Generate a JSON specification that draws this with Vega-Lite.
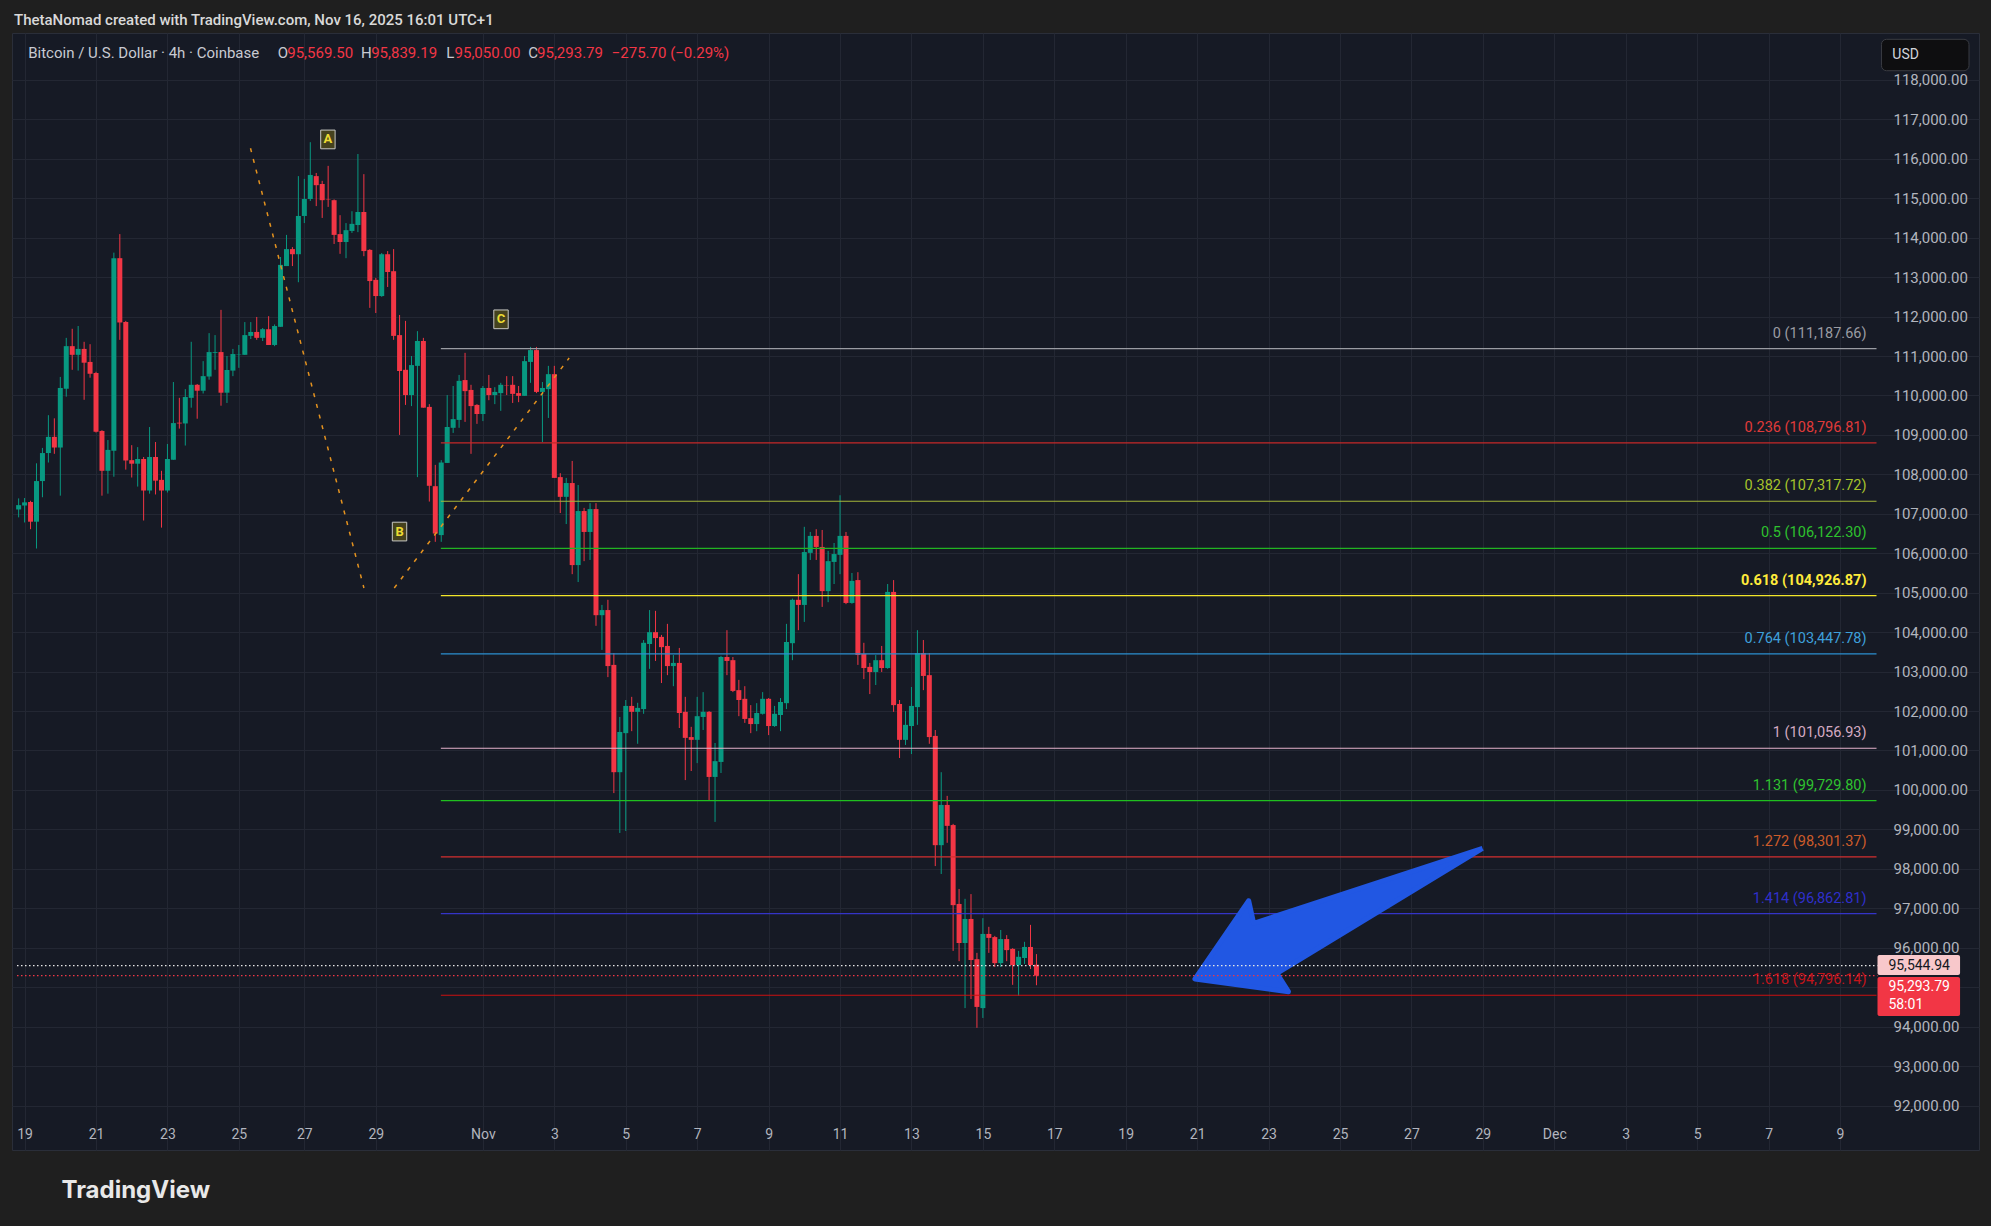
{
"$schema": "https://vega.github.io/schema/vega-lite/v6.json",
"width": 1967, "height": 1117,
"autosize": {"type": "none"},
"padding": {"left": 12, "top": 33, "right": 12, "bottom": 76},
"background": "#1f1f1f",
"config": {"view": {"fill": "#161a25", "stroke": "#2a2e39"}, "font": "Roboto"},
"title": {"text": "ThetaNomad created with TradingView.com, Nov 16, 2025 16:01 UTC+1", "anchor": "start", "frame": "group", "offset": 8, "baseline": "alphabetic", "dx": 2, "dy": 15, "fontSize": 15, "fontWeight": 500, "color": "#d9d9d9", "font": "Roboto"},
"datasets": {
"candles": [
{"t":"2025-10-19T00:00","o":107110,"h":107390,"l":106910,"c":107220},
{"t":"2025-10-19T04:00","o":107210,"h":107400,"l":106780,"c":107290},
{"t":"2025-10-19T08:00","o":107300,"h":107330,"l":106610,"c":106800},
{"t":"2025-10-19T12:00","o":106800,"h":108280,"l":106120,"c":107830},
{"t":"2025-10-19T16:00","o":107830,"h":108670,"l":107420,"c":108540},
{"t":"2025-10-19T20:00","o":108540,"h":109500,"l":108300,"c":108950},
{"t":"2025-10-20T00:00","o":108950,"h":109420,"l":108520,"c":108680},
{"t":"2025-10-20T04:00","o":108680,"h":110470,"l":107460,"c":110190},
{"t":"2025-10-20T08:00","o":110170,"h":111460,"l":109970,"c":111250},
{"t":"2025-10-20T12:00","o":111250,"h":111690,"l":110650,"c":111030},
{"t":"2025-10-20T16:00","o":111030,"h":111760,"l":110630,"c":111180},
{"t":"2025-10-20T20:00","o":111180,"h":111360,"l":109890,"c":110830},
{"t":"2025-10-21T00:00","o":110850,"h":111300,"l":110450,"c":110550},
{"t":"2025-10-21T04:00","o":110570,"h":110600,"l":109060,"c":109080},
{"t":"2025-10-21T08:00","o":109100,"h":109120,"l":107460,"c":108090},
{"t":"2025-10-21T12:00","o":108090,"h":108870,"l":107510,"c":108620},
{"t":"2025-10-21T16:00","o":108600,"h":113620,"l":107940,"c":113480},
{"t":"2025-10-21T20:00","o":113480,"h":114090,"l":111410,"c":111850},
{"t":"2025-10-22T00:00","o":111860,"h":111890,"l":108120,"c":108350},
{"t":"2025-10-22T04:00","o":108360,"h":108740,"l":107920,"c":108270},
{"t":"2025-10-22T08:00","o":108270,"h":108690,"l":107690,"c":108390},
{"t":"2025-10-22T12:00","o":108390,"h":108440,"l":106830,"c":107590},
{"t":"2025-10-22T16:00","o":107590,"h":109200,"l":107510,"c":108440},
{"t":"2025-10-22T20:00","o":108440,"h":108820,"l":107490,"c":107840},
{"t":"2025-10-23T00:00","o":107860,"h":108090,"l":106650,"c":107590},
{"t":"2025-10-23T04:00","o":107590,"h":108770,"l":107540,"c":108390},
{"t":"2025-10-23T08:00","o":108370,"h":110340,"l":108370,"c":109300},
{"t":"2025-10-23T12:00","o":109310,"h":109940,"l":109160,"c":109290},
{"t":"2025-10-23T16:00","o":109290,"h":110160,"l":108730,"c":109960},
{"t":"2025-10-23T20:00","o":109940,"h":111360,"l":109690,"c":110270},
{"t":"2025-10-24T00:00","o":110270,"h":110290,"l":109410,"c":110120},
{"t":"2025-10-24T04:00","o":110120,"h":110870,"l":110050,"c":110490},
{"t":"2025-10-24T08:00","o":110480,"h":111580,"l":110400,"c":111100},
{"t":"2025-10-24T12:00","o":111080,"h":111530,"l":110650,"c":111100},
{"t":"2025-10-24T16:00","o":111100,"h":112170,"l":109740,"c":110070},
{"t":"2025-10-24T20:00","o":110070,"h":111000,"l":109810,"c":110645},
{"t":"2025-10-25T00:00","o":110630,"h":111180,"l":110490,"c":111050},
{"t":"2025-10-25T04:00","o":111040,"h":111280,"l":110700,"c":111050},
{"t":"2025-10-25T08:00","o":111030,"h":111860,"l":111030,"c":111530},
{"t":"2025-10-25T12:00","o":111510,"h":111860,"l":111430,"c":111610},
{"t":"2025-10-25T16:00","o":111610,"h":111990,"l":111410,"c":111460},
{"t":"2025-10-25T20:00","o":111460,"h":111710,"l":111380,"c":111680},
{"t":"2025-10-26T00:00","o":111680,"h":112010,"l":111280,"c":111280},
{"t":"2025-10-26T04:00","o":111280,"h":111800,"l":111250,"c":111760},
{"t":"2025-10-26T08:00","o":111740,"h":113510,"l":111740,"c":113310},
{"t":"2025-10-26T12:00","o":113280,"h":114070,"l":113280,"c":113710},
{"t":"2025-10-26T16:00","o":113710,"h":113760,"l":113280,"c":113580},
{"t":"2025-10-26T20:00","o":113580,"h":115560,"l":112870,"c":114550},
{"t":"2025-10-27T00:00","o":114550,"h":115490,"l":114370,"c":114980},
{"t":"2025-10-27T04:00","o":114980,"h":116420,"l":114930,"c":115590},
{"t":"2025-10-27T08:00","o":115560,"h":115640,"l":114800,"c":115330},
{"t":"2025-10-27T12:00","o":115360,"h":115440,"l":114500,"c":114950},
{"t":"2025-10-27T16:00","o":114970,"h":115820,"l":114780,"c":114960},
{"t":"2025-10-27T20:00","o":114950,"h":114970,"l":113840,"c":114070},
{"t":"2025-10-28T00:00","o":114090,"h":114570,"l":113590,"c":113890},
{"t":"2025-10-28T04:00","o":113890,"h":114370,"l":113480,"c":114190},
{"t":"2025-10-28T08:00","o":114170,"h":114670,"l":114120,"c":114350},
{"t":"2025-10-28T12:00","o":114320,"h":116120,"l":114140,"c":114650},
{"t":"2025-10-28T16:00","o":114650,"h":115610,"l":113530,"c":113660},
{"t":"2025-10-28T20:00","o":113690,"h":113710,"l":112220,"c":112900},
{"t":"2025-10-29T00:00","o":112930,"h":112980,"l":112090,"c":112520},
{"t":"2025-10-29T04:00","o":112520,"h":113610,"l":112500,"c":113580},
{"t":"2025-10-29T08:00","o":113580,"h":113660,"l":112750,"c":113130},
{"t":"2025-10-29T12:00","o":113150,"h":113710,"l":111410,"c":111510},
{"t":"2025-10-29T16:00","o":111530,"h":112040,"l":109000,"c":110620},
{"t":"2025-10-29T20:00","o":110650,"h":111890,"l":109760,"c":110010},
{"t":"2025-10-30T00:00","o":110010,"h":111000,"l":109730,"c":110770},
{"t":"2025-10-30T04:00","o":110750,"h":111630,"l":107930,"c":111380},
{"t":"2025-10-30T08:00","o":111380,"h":111460,"l":109690,"c":109690},
{"t":"2025-10-30T12:00","o":109710,"h":109780,"l":107310,"c":107710},
{"t":"2025-10-30T16:00","o":107700,"h":108240,"l":106290,"c":106500},
{"t":"2025-10-30T20:00","o":106460,"h":108360,"l":106290,"c":108300},
{"t":"2025-10-31T00:00","o":108290,"h":110010,"l":108290,"c":109200},
{"t":"2025-10-31T04:00","o":109180,"h":110240,"l":109050,"c":109400},
{"t":"2025-10-31T08:00","o":109380,"h":110520,"l":109180,"c":110370},
{"t":"2025-10-31T12:00","o":110390,"h":111080,"l":109330,"c":110110},
{"t":"2025-10-31T16:00","o":110140,"h":110270,"l":108520,"c":109730},
{"t":"2025-10-31T20:00","o":109760,"h":109780,"l":109280,"c":109530},
{"t":"2025-11-01T00:00","o":109530,"h":110240,"l":109350,"c":110190},
{"t":"2025-11-01T04:00","o":110190,"h":110520,"l":109880,"c":110010},
{"t":"2025-11-01T08:00","o":110010,"h":110210,"l":109780,"c":110090},
{"t":"2025-11-01T12:00","o":110060,"h":110320,"l":109610,"c":110270},
{"t":"2025-11-01T16:00","o":110260,"h":110490,"l":110010,"c":110250},
{"t":"2025-11-01T20:00","o":110270,"h":110490,"l":109810,"c":110040},
{"t":"2025-11-02T00:00","o":110060,"h":110240,"l":109830,"c":109990},
{"t":"2025-11-02T04:00","o":109990,"h":111000,"l":109990,"c":110870},
{"t":"2025-11-02T08:00","o":110850,"h":111230,"l":110320,"c":111150},
{"t":"2025-11-02T12:00","o":111150,"h":111230,"l":110060,"c":110090},
{"t":"2025-11-02T16:00","o":110090,"h":110340,"l":108820,"c":110190},
{"t":"2025-11-02T20:00","o":110160,"h":110750,"l":109430,"c":110540},
{"t":"2025-11-03T00:00","o":110540,"h":110750,"l":107910,"c":107910},
{"t":"2025-11-03T04:00","o":107930,"h":108030,"l":107020,"c":107430},
{"t":"2025-11-03T08:00","o":107430,"h":107910,"l":106740,"c":107780},
{"t":"2025-11-03T12:00","o":107780,"h":108340,"l":105470,"c":105700},
{"t":"2025-11-03T16:00","o":105700,"h":107730,"l":105270,"c":107070},
{"t":"2025-11-03T20:00","o":107070,"h":107150,"l":105800,"c":106540},
{"t":"2025-11-04T00:00","o":106540,"h":107270,"l":105830,"c":107120},
{"t":"2025-11-04T04:00","o":107120,"h":107270,"l":104160,"c":104430},
{"t":"2025-11-04T08:00","o":104430,"h":104690,"l":103550,"c":104560},
{"t":"2025-11-04T12:00","o":104560,"h":104820,"l":102860,"c":103140},
{"t":"2025-11-04T16:00","o":103170,"h":103470,"l":99920,"c":100450},
{"t":"2025-11-04T20:00","o":100450,"h":101850,"l":98910,"c":101470},
{"t":"2025-11-05T00:00","o":101440,"h":102280,"l":98960,"c":102130},
{"t":"2025-11-05T04:00","o":102130,"h":102360,"l":101490,"c":101980},
{"t":"2025-11-05T08:00","o":101980,"h":102210,"l":101170,"c":102080},
{"t":"2025-11-05T12:00","o":102050,"h":103800,"l":101930,"c":103730},
{"t":"2025-11-05T16:00","o":103700,"h":104560,"l":103070,"c":104000},
{"t":"2025-11-05T20:00","o":104000,"h":104540,"l":103270,"c":103850},
{"t":"2025-11-06T00:00","o":103880,"h":103930,"l":102710,"c":103620},
{"t":"2025-11-06T04:00","o":103650,"h":104210,"l":102910,"c":103140},
{"t":"2025-11-06T08:00","o":103140,"h":103420,"l":102630,"c":103220},
{"t":"2025-11-06T12:00","o":103220,"h":103600,"l":101570,"c":101950},
{"t":"2025-11-06T16:00","o":101980,"h":102360,"l":100250,"c":101320},
{"t":"2025-11-06T20:00","o":101340,"h":101600,"l":100480,"c":101270},
{"t":"2025-11-07T00:00","o":101270,"h":102360,"l":100680,"c":101870},
{"t":"2025-11-07T04:00","o":101850,"h":102480,"l":101520,"c":101980},
{"t":"2025-11-07T08:00","o":101980,"h":102000,"l":99740,"c":100330},
{"t":"2025-11-07T12:00","o":100330,"h":101190,"l":99190,"c":100730},
{"t":"2025-11-07T16:00","o":100710,"h":103400,"l":100430,"c":103370},
{"t":"2025-11-07T20:00","o":103370,"h":104050,"l":102910,"c":103270},
{"t":"2025-11-08T00:00","o":103290,"h":103370,"l":102480,"c":102510},
{"t":"2025-11-08T04:00","o":102530,"h":102790,"l":101870,"c":102280},
{"t":"2025-11-08T08:00","o":102310,"h":102630,"l":101700,"c":101800},
{"t":"2025-11-08T12:00","o":101820,"h":102150,"l":101440,"c":101670},
{"t":"2025-11-08T16:00","o":101670,"h":102200,"l":101490,"c":101950},
{"t":"2025-11-08T20:00","o":101930,"h":102480,"l":101910,"c":102310},
{"t":"2025-11-09T00:00","o":102310,"h":102330,"l":101390,"c":101620},
{"t":"2025-11-09T04:00","o":101620,"h":102130,"l":101600,"c":101930},
{"t":"2025-11-09T08:00","o":101900,"h":102330,"l":101490,"c":102230},
{"t":"2025-11-09T12:00","o":102200,"h":104210,"l":102050,"c":103750},
{"t":"2025-11-09T16:00","o":103720,"h":104850,"l":103290,"c":104820},
{"t":"2025-11-09T20:00","o":104820,"h":105470,"l":104050,"c":104690},
{"t":"2025-11-10T00:00","o":104690,"h":106670,"l":104260,"c":106030},
{"t":"2025-11-10T04:00","o":106010,"h":106540,"l":105830,"c":106440},
{"t":"2025-11-10T08:00","o":106440,"h":106610,"l":105830,"c":106160},
{"t":"2025-11-10T12:00","o":106160,"h":106590,"l":104640,"c":105040},
{"t":"2025-11-10T16:00","o":105040,"h":106060,"l":104760,"c":105800},
{"t":"2025-11-10T20:00","o":105780,"h":106260,"l":105220,"c":105980},
{"t":"2025-11-11T00:00","o":105960,"h":107470,"l":105470,"c":106440},
{"t":"2025-11-11T04:00","o":106440,"h":106540,"l":104710,"c":104740},
{"t":"2025-11-11T08:00","o":104740,"h":105500,"l":104720,"c":105300},
{"t":"2025-11-11T12:00","o":105320,"h":105520,"l":103170,"c":103420},
{"t":"2025-11-11T16:00","o":103450,"h":103730,"l":102810,"c":103090},
{"t":"2025-11-11T20:00","o":103120,"h":103220,"l":102430,"c":102990},
{"t":"2025-11-12T00:00","o":102990,"h":103420,"l":102660,"c":103290},
{"t":"2025-11-12T04:00","o":103290,"h":103650,"l":102990,"c":103090},
{"t":"2025-11-12T08:00","o":103090,"h":105220,"l":103070,"c":105020},
{"t":"2025-11-12T12:00","o":105020,"h":105320,"l":101980,"c":102150},
{"t":"2025-11-12T16:00","o":102180,"h":102280,"l":100810,"c":101270},
{"t":"2025-11-12T20:00","o":101270,"h":102000,"l":101140,"c":101650},
{"t":"2025-11-13T00:00","o":101620,"h":102610,"l":100910,"c":102130},
{"t":"2025-11-13T04:00","o":102100,"h":104050,"l":101650,"c":103470},
{"t":"2025-11-13T08:00","o":103470,"h":103800,"l":102530,"c":102890},
{"t":"2025-11-13T12:00","o":102910,"h":103470,"l":101170,"c":101340},
{"t":"2025-11-13T16:00","o":101370,"h":101520,"l":98070,"c":98600},
{"t":"2025-11-13T20:00","o":98600,"h":100450,"l":97870,"c":99620},
{"t":"2025-11-14T00:00","o":99620,"h":99850,"l":98660,"c":99090},
{"t":"2025-11-14T04:00","o":99110,"h":99140,"l":95920,"c":97080},
{"t":"2025-11-14T08:00","o":97110,"h":97490,"l":95660,"c":96120},
{"t":"2025-11-14T12:00","o":96120,"h":97240,"l":94470,"c":96730},
{"t":"2025-11-14T16:00","o":96730,"h":97360,"l":94700,"c":95690},
{"t":"2025-11-14T20:00","o":95710,"h":95870,"l":93970,"c":94500},
{"t":"2025-11-15T00:00","o":94470,"h":96750,"l":94220,"c":96350},
{"t":"2025-11-15T04:00","o":96350,"h":96530,"l":95870,"c":96250},
{"t":"2025-11-15T08:00","o":96270,"h":96300,"l":95510,"c":95610},
{"t":"2025-11-15T12:00","o":95610,"h":96450,"l":95510,"c":96220},
{"t":"2025-11-15T16:00","o":96220,"h":96320,"l":95660,"c":95940},
{"t":"2025-11-15T20:00","o":95970,"h":95990,"l":95060,"c":95560},
{"t":"2025-11-16T00:00","o":95560,"h":95920,"l":94780,"c":95770},
{"t":"2025-11-16T04:00","o":95740,"h":96150,"l":95590,"c":96020},
{"t":"2025-11-16T08:00","o":96020,"h":96580,"l":95460,"c":95560},
{"t":"2025-11-16T12:00","o":95569.50,"h":95839.19,"l":95050.00,"c":95293.79}
],
"fib": [
{"level":"0","label":"0 (111,187.66)","price":111187.66,"from":"2025-10-30T19:44","to":"2025-12-10T00:32"},
{"level":"0.236","label":"0.236 (108,796.81)","price":108796.81,"from":"2025-10-30T19:44","to":"2025-12-10T00:32"},
{"level":"0.382","label":"0.382 (107,317.72)","price":107317.72,"from":"2025-10-30T19:44","to":"2025-12-10T00:32"},
{"level":"0.5","label":"0.5 (106,122.30)","price":106122.30,"from":"2025-10-30T19:44","to":"2025-12-10T00:32"},
{"level":"0.618","label":"0.618 (104,926.87)","price":104926.87,"from":"2025-10-30T19:44","to":"2025-12-10T00:32"},
{"level":"0.764","label":"0.764 (103,447.78)","price":103447.78,"from":"2025-10-30T19:44","to":"2025-12-10T00:32"},
{"level":"1","label":"1 (101,056.93)","price":101056.93,"from":"2025-10-30T19:44","to":"2025-12-10T00:32"},
{"level":"1.131","label":"1.131 (99,729.80)","price":99729.80,"from":"2025-10-30T19:44","to":"2025-12-10T00:32"},
{"level":"1.272","label":"1.272 (98,301.37)","price":98301.37,"from":"2025-10-30T19:44","to":"2025-12-10T00:32"},
{"level":"1.414","label":"1.414 (96,862.81)","price":96862.81,"from":"2025-10-30T19:44","to":"2025-12-10T00:32"},
{"level":"1.618","label":"1.618 (94,796.14)","price":94796.14,"from":"2025-10-30T19:44","to":"2025-12-10T00:32"}
],
"wave": [
{"t1":"2025-10-25T11:49","p1":116265,"t2":"2025-10-28T16:02","p2":105119},
{"t1":"2025-10-29T12:26","p1":105119,"t2":"2025-11-03T09:58","p2":110949}
],
"abc": [
{"t":"2025-10-27T15:50","p":116490,"s":"A"},
{"t":"2025-10-29T15:58","p":106550,"s":"B"},
{"t":"2025-11-01T12:10","p":111930,"s":"C"}
],
"arrow": [
{"k":0,"t":"2025-11-28T23:46","p":98521},
{"k":1,"t":"2025-11-22T13:58","p":96620},
{"k":2,"t":"2025-11-22T10:38","p":97193},
{"k":3,"t":"2025-11-20T22:32","p":95208},
{"k":4,"t":"2025-11-23T13:22","p":94886},
{"k":5,"t":"2025-11-23T05:33","p":95352},
{"k":6,"t":"2025-11-28T23:46","p":98521}
],
"last": [
{"k":"prev","price":95544.94,"from":"2025-10-18T22:54","to":"2025-12-10T01:12","lo":95309,"hi":95816,"bx2":"2025-12-12T08:41"},
{"k":"last","price":95293.79,"from":"2025-10-18T22:54","to":"2025-12-10T01:12","lo":94270,"hi":95258,"bx2":"2025-12-12T08:41"}
],
"lasttext": [
{"k":"prev","s":"95,544.94","p":95545,"t":"2025-12-10T08:31"},
{"k":"last","s":"95,293.79","p":95017,"t":"2025-12-10T08:31"},
{"k":"last","s":"58:01","p":94540,"t":"2025-12-10T08:31"}
],
"legend": [
{"t":"2025-10-19T06:26","p":118673,"s":"Bitcoin / U.S. Dollar · 4h · Coinbase","k":"a"},
{"t":"2025-10-26T06:04","p":118673,"s":"O","k":"a"},
{"t":"2025-10-26T12:29","p":118673,"s":"95,569.50","k":"v"},
{"t":"2025-10-28T14:01","p":118673,"s":"H","k":"a"},
{"t":"2025-10-28T20:54","p":118673,"s":"95,839.19","k":"v"},
{"t":"2025-10-30T23:24","p":118673,"s":"L","k":"a"},
{"t":"2025-10-31T04:57","p":118673,"s":"95,050.00","k":"v"},
{"t":"2025-11-02T06:33","p":118673,"s":"C","k":"a"},
{"t":"2025-11-02T12:23","p":118673,"s":"95,293.79","k":"v"},
{"t":"2025-11-04T14:35","p":118673,"s":"−275.70 (−0.29%)","k":"v"}
],
"usd": [
{"s":"USD","t1":"2025-12-10T03:52","t2":"2025-12-12T14:41","p1":118232,"p2":119028,"tt":"2025-12-10T11:11","pt":118630}
]
},
"layer": [
{
"data": {"name": "candles"},
"mark": {"type": "rule", "strokeWidth": 1, "clip": true},
"encoding": {
"x": {"field": "t", "type": "temporal",
"scale": {"domain": [{"year":2025,"month":10,"date":18,"hours":22,"minutes":54},{"year":2025,"month":12,"date":12,"hours":18,"minutes":3}], "nice": false},
"axis": {"orient": "bottom", "offset": -23, "title": "TradingView", "titleX": 49, "titleY": 70, "titleAlign": "left", "titleAnchor": "start", "titleBaseline": "alphabetic", "titleFont": "Inter", "titleFontSize": 24, "titleFontWeight": "bold", "titleColor": "#e8e8e8",
"values": [
{"year":2025,"month":10,"date":19,"hours":4},{"year":2025,"month":10,"date":21,"hours":4},{"year":2025,"month":10,"date":23,"hours":4},{"year":2025,"month":10,"date":25,"hours":4},
{"year":2025,"month":10,"date":27},{"year":2025,"month":10,"date":29},
{"year":2025,"month":11,"date":1},{"year":2025,"month":11,"date":3},{"year":2025,"month":11,"date":5},{"year":2025,"month":11,"date":7},{"year":2025,"month":11,"date":9},{"year":2025,"month":11,"date":11},{"year":2025,"month":11,"date":13},{"year":2025,"month":11,"date":15},{"year":2025,"month":11,"date":17},{"year":2025,"month":11,"date":19},{"year":2025,"month":11,"date":21},{"year":2025,"month":11,"date":23},{"year":2025,"month":11,"date":25},{"year":2025,"month":11,"date":27},{"year":2025,"month":11,"date":29},
{"year":2025,"month":12,"date":1},{"year":2025,"month":12,"date":3},{"year":2025,"month":12,"date":5},{"year":2025,"month":12,"date":7},{"year":2025,"month":12,"date":9}],
"labelExpr": "date(datum.value) == 1 ? timeFormat(datum.value, '%b') : '' + date(datum.value)",
"labelColor": "#b2b5be", "labelFontSize": 14, "labelFont": "Roboto", "labelPadding": 0, "ticks": false, "tickSize": 0, "domain": false, "grid": true, "gridColor": "#232733", "gridWidth": 1, "labelOverlap": false, "labelFlush": false}},
"y": {"field": "l", "type": "quantitative",
"scale": {"domain": [90873, 119188], "nice": false, "zero": false},
"axis": {"orient": "right", "offset": -86, "title": null, "values": [92000,93000,94000,95000,96000,97000,98000,99000,100000,101000,102000,103000,104000,105000,106000,107000,108000,109000,110000,111000,112000,113000,114000,115000,116000,117000,118000],
"format": ",.2f", "labelExpr": "datum.value == 95000 ? '' : datum.label", "labelColor": "#b2b5be", "labelFontSize": 15, "labelFont": "Roboto", "labelAlign": "left", "labelBaseline": "middle", "labelPadding": 0, "ticks": false, "tickSize": 0, "domain": false, "grid": true, "gridColor": "#232733", "gridWidth": 1, "labelOverlap": false, "labelFlush": false}},
"y2": {"field": "h"},
"color": {"condition": {"test": "datum.c >= datum.o", "value": "#089981"}, "value": "#f23645"}
}
},
{
"data": {"name": "candles"},
"mark": {"type": "bar", "width": 5, "clip": true},
"encoding": {
"x": {"field": "t", "type": "temporal"},
"y": {"field": "o", "type": "quantitative"},
"y2": {"field": "c"},
"color": {"condition": {"test": "datum.c >= datum.o", "value": "#089981"}, "value": "#f23645"}
}
},
{
"data": {"name": "fib"},
"mark": {"type": "rule", "strokeWidth": 1.2},
"encoding": {
"x": {"field": "from", "type": "temporal"},
"x2": {"field": "to"},
"y": {"field": "price", "type": "quantitative"},
"stroke": {"field": "level", "type": "nominal", "legend": null,
"scale": {"domain": ["0","0.236","0.382","0.5","0.618","0.764","1","1.131","1.272","1.414","1.618"],
"range": ["#9a9ca3","#c62828","#a4b63a","#22b322","#f2e52a","#2b8fd0","#e6b3cc","#1fbf1f","#d32f2f","#3434c8","#cc1010"]}}
}
},
{
"data": {"name": "fib"},
"transform": [{"filter": "datum.level != '0.618'"}],
"mark": {"type": "text", "align": "right", "baseline": "middle", "dx": -10, "dy": -15, "fontSize": 14.5, "font": "Roboto"},
"encoding": {
"x": {"field": "to", "type": "temporal"},
"y": {"field": "price", "type": "quantitative"},
"text": {"field": "label"},
"fill": {"field": "level", "type": "nominal", "legend": null,
"scale": {"domain": ["0","0.236","0.382","0.5","0.618","0.764","1","1.131","1.272","1.414","1.618"],
"range": ["#9a9ca3","#e03a3a","#a6c22b","#2ec12e","#ffeb3b","#3ea0db","#d4aac2","#2fc22f","#cd5c2a","#2f2fcb","#c4141a"]}}
}
},
{
"data": {"name": "fib"},
"transform": [{"filter": "datum.level == '0.618'"}],
"mark": {"type": "text", "align": "right", "baseline": "middle", "dx": -10, "dy": -15, "fontSize": 14.5, "font": "Roboto", "fontWeight": "bold"},
"encoding": {
"x": {"field": "to", "type": "temporal"},
"y": {"field": "price", "type": "quantitative"},
"text": {"field": "label"},
"fill": {"field": "level", "type": "nominal", "legend": null,
"scale": {"domain": ["0","0.236","0.382","0.5","0.618","0.764","1","1.131","1.272","1.414","1.618"],
"range": ["#9a9ca3","#e03a3a","#a6c22b","#2ec12e","#ffeb3b","#3ea0db","#d4aac2","#2fc22f","#cd5c2a","#2f2fcb","#c4141a"]}}
}
},
{
"data": {"name": "wave"},
"mark": {"type": "rule", "color": "#e3921f", "strokeWidth": 1.5, "strokeDash": [4, 7]},
"encoding": {
"x": {"field": "t1", "type": "temporal"},
"y": {"field": "p1", "type": "quantitative"},
"x2": {"field": "t2"},
"y2": {"field": "p2"}
}
},
{
"data": {"name": "abc"},
"mark": {"type": "point", "shape": "M-0.77,-1H0.77V1H-0.77Z", "size": 350, "filled": true, "fill": "#45421e", "stroke": "#c8c8c4", "strokeWidth": 1, "opacity": 1},
"encoding": {
"x": {"field": "t", "type": "temporal"},
"y": {"field": "p", "type": "quantitative"}
}
},
{
"data": {"name": "abc"},
"mark": {"type": "text", "align": "center", "baseline": "middle", "fontSize": 13, "fontWeight": "bold", "font": "Roboto", "color": "#ecdb33"},
"encoding": {
"x": {"field": "t", "type": "temporal"},
"y": {"field": "p", "type": "quantitative"},
"text": {"field": "s"}
}
},
{
"data": {"name": "arrow"},
"mark": {"type": "line", "fill": "#2157e3", "stroke": "#2157e3", "strokeWidth": 5, "strokeJoin": "round", "interpolate": "linear"},
"encoding": {
"x": {"field": "t", "type": "temporal"},
"y": {"field": "p", "type": "quantitative"},
"order": {"field": "k", "type": "quantitative"}
}
},
{
"data": {"name": "last"},
"mark": {"type": "rule", "strokeWidth": 1.2, "strokeDash": [1.5, 2.5]},
"encoding": {
"x": {"field": "from", "type": "temporal"},
"x2": {"field": "to"},
"y": {"field": "price", "type": "quantitative"},
"color": {"condition": {"test": "datum.k == 'prev'", "value": "#e8e8e8"}, "value": "#f23645"}
}
},
{
"data": {"name": "last"},
"mark": {"type": "rect", "cornerRadius": 2},
"encoding": {
"x": {"field": "to", "type": "temporal"},
"x2": {"field": "bx2"},
"y": {"field": "lo", "type": "quantitative"},
"y2": {"field": "hi"},
"color": {"condition": {"test": "datum.k == 'prev'", "value": "#f8c8cb"}, "value": "#f23645"}
}
},
{
"data": {"name": "lasttext"},
"mark": {"type": "text", "align": "left", "baseline": "middle", "fontSize": 14, "font": "Roboto"},
"encoding": {
"x": {"field": "t", "type": "temporal"},
"y": {"field": "p", "type": "quantitative"},
"text": {"field": "s"},
"color": {"condition": {"test": "datum.k == 'prev'", "value": "#131722"}, "value": "#ffffff"}
}
},
{
"data": {"name": "legend"},
"mark": {"type": "text", "align": "left", "baseline": "middle", "fontSize": 15, "font": "Roboto"},
"encoding": {
"x": {"field": "t", "type": "temporal"},
"y": {"field": "p", "type": "quantitative"},
"text": {"field": "s"},
"color": {"condition": {"test": "datum.k == 'v'", "value": "#f23645"}, "value": "#c8cad2"}
}
},
{
"data": {"name": "usd"},
"mark": {"type": "rect", "fill": "#0e0e10", "stroke": "#3a3c42", "strokeWidth": 1, "cornerRadius": 5},
"encoding": {
"x": {"field": "t1", "type": "temporal"},
"x2": {"field": "t2"},
"y": {"field": "p1", "type": "quantitative"},
"y2": {"field": "p2"}
}
},
{
"data": {"name": "usd"},
"mark": {"type": "text", "align": "left", "baseline": "middle", "fontSize": 14, "font": "Roboto", "color": "#d1d4dc"},
"encoding": {
"x": {"field": "tt", "type": "temporal"},
"y": {"field": "pt", "type": "quantitative"},
"text": {"field": "s"}
}
}
]
}
